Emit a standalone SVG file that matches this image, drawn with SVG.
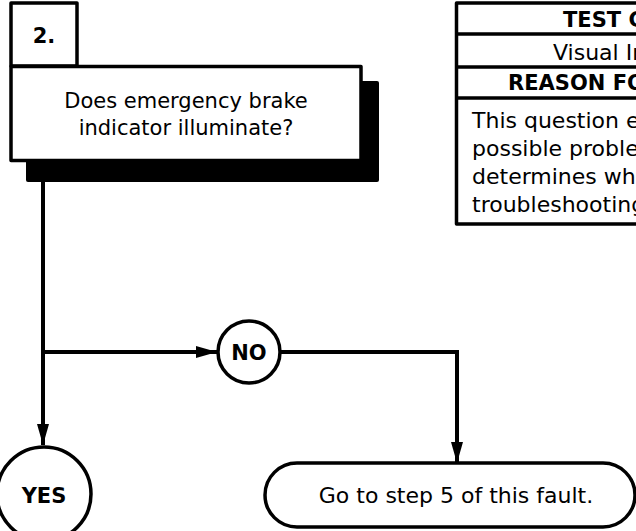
<svg xmlns="http://www.w3.org/2000/svg" width="636" height="531" viewBox="0 0 636 531">
<style>
.box{fill:#fff;stroke:#000;stroke-width:3.5;stroke-linejoin:round}
.t{font-family:"DejaVu Sans",Verdana,sans-serif;font-size:21px;fill:#000}
.l{font-size:22px}
.b{font-family:"DejaVu Sans",Verdana,sans-serif;font-size:21px;font-weight:bold;fill:#000}
.c{text-anchor:middle}
.ln{fill:none;stroke:#000;stroke-width:4}
</style>
<defs>
<marker id="arr" markerUnits="userSpaceOnUse" markerWidth="22" markerHeight="12" refX="21" refY="6" orient="auto">
<path d="M0,0 L21,6 L0,12 Z" fill="#000"/>
</marker>
</defs>
<g id="step2">
<rect x="26" y="81" width="353" height="101" rx="2" fill="#000"/>
<rect class="box" x="11" y="3" width="66" height="63"/>
<text class="b c" x="44" y="43">2.</text>
<rect class="box" x="11" y="66.5" width="350" height="94"/>
<text class="t c" x="186" y="108">Does emergency brake</text>
<text class="t c" x="186" y="135">indicator illuminate?</text>
</g>
<g id="info-table">
<rect class="box" x="456.5" y="3" width="300" height="221"/>
<line x1="456" y1="34" x2="700" y2="34" stroke="#000" stroke-width="3.5"/>
<line x1="456" y1="67" x2="700" y2="67" stroke="#000" stroke-width="3.5"/>
<line x1="456" y1="98" x2="700" y2="98" stroke="#000" stroke-width="3.5"/>
<text class="b" x="563" y="27">TEST C</text>
<text class="t l" x="553" y="60">Visual In</text>
<text class="b" x="508" y="90">REASON FO</text>
<text class="t l" x="472" y="128">This question e</text>
<text class="t l" x="472" y="156">possible proble</text>
<text class="t l" x="472" y="184">determines whe</text>
<text class="t l" x="472" y="212">troubleshooting</text>
</g>
<g id="connectors">
<path class="ln" d="M43,182 L43,445" marker-end="url(#arr)"/>
<path class="ln" d="M43,352 L217,352" marker-end="url(#arr)"/>
<path class="ln" d="M281,352 L457,352 L457,463" marker-end="url(#arr)"/>
</g>
<g id="no">
<circle class="box" cx="249" cy="352" r="31"/>
<text class="b c" x="249" y="360">NO</text>
</g>
<g id="yes">
<circle class="box" cx="44" cy="494" r="47"/>
<text class="b c" x="44" y="503">YES</text>
</g>
<g id="goto5">
<rect class="box" x="265" y="463" width="370" height="64" rx="32"/>
<text class="t l c" x="456" y="503">Go to step 5 of this fault.</text>
</g>
</svg>
